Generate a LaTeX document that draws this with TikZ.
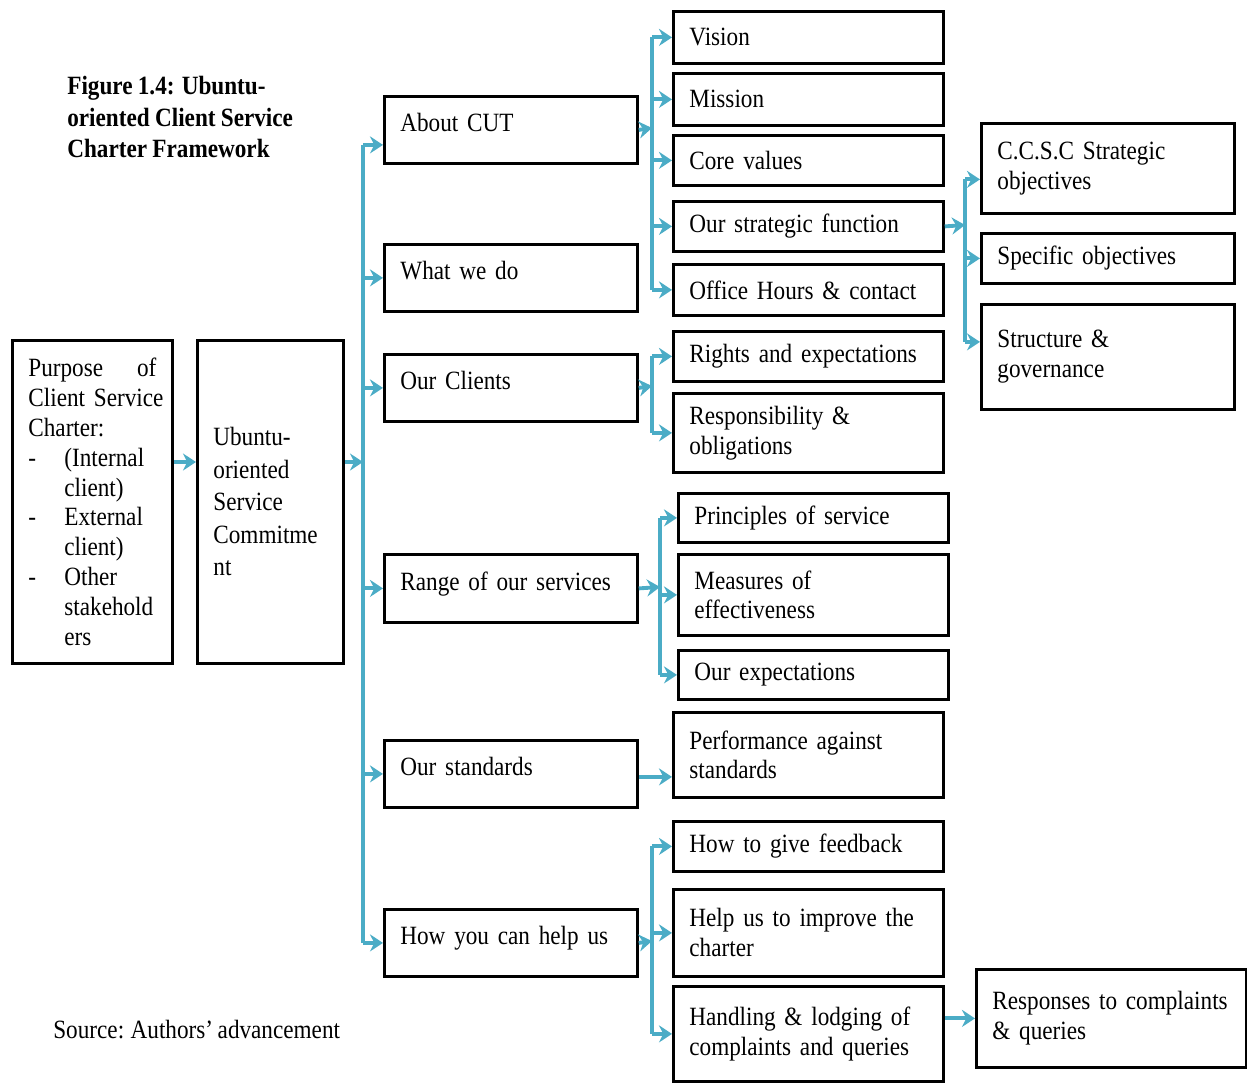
\documentclass[tikz,border=0pt]{standalone}
\usepackage{fontspec}
\setmainfont{Liberation Serif}[FakeStretch=0.88]
\usetikzlibrary{arrows.meta,calc}
\definecolor{linkblue}{RGB}{75,172,198}
\newcommand\boxfont{\fontsize{15}{17}\selectfont\fontdimen2\font=2.6pt\relax\hyphenpenalty=10000\relax}
\newcommand\titlefont{\bfseries\fontsize{15}{18}\selectfont\fontdimen2\font=3pt\relax}
\newcommand\dashitem[1]{\makebox[0.72cm][l]{-}#1}
\newcommand\hangitem[1]{\hspace*{0.72cm}#1}

\begin{document}
\begin{tikzpicture}[x=0.02cm,y=-0.02cm,
  box/.style={draw,line width=1.6pt,anchor=north west,align=left,inner xsep=0.32cm,inner ysep=0pt,font=\boxfont},
  lvtwo/.style={box,text width=4.42cm,minimum height=1.34cm,text depth=0.3cm},
  lvthree/.style={box,text width=4.76cm},
  link/.style={draw=linkblue,line width=2.2pt,line join=round},
  arr/.style={link,-{Stealth[length=0.26cm,width=0.34cm]}}]
\useasboundingbox (0,0) rectangle (1247,1082);
% title and source
\node[anchor=north west,align=left,inner sep=0,font=\titlefont] (title) at (67,76) {Figure 1.4: Ubuntu-\\oriented Client Service\\Charter Framework};
\node[anchor=west,inner sep=0,font=\boxfont] (source) at (53,1030) {Source: Authors' advancement};
% first two columns
\node[box,text width=2.56cm,minimum height=6.46cm] (purpose) at (11,339) {Purpose\hfill of\\\mbox{Client Service}\\Charter:\\\dashitem{(Internal}\\\hangitem{client)}\\\dashitem{External}\\\hangitem{client)}\\\dashitem{Other}\\\hangitem{stakehold}\\\hangitem{ers}};
\node[box,text width=2.28cm,minimum height=6.46cm,font=\boxfont\fontsize{15}{18.5}\selectfont] (ubuntu) at (196,339) {Ubuntu-\\oriented\\Service\\Commitme\\nt};
% headings of the charter
\node[lvtwo] (about) at (383,95) {About CUT};
\node[lvtwo] (whatdo) at (383,243) {What we do};
\node[lvtwo] (clients) at (383,353) {Our Clients};
\node[lvtwo,minimum height=1.36cm] (range) at (383,553) {Range of our services};
\node[lvtwo] (standards) at (383,739) {Our standards};
\node[lvtwo] (helpus) at (383,908) {How you can help us};
% contents
\node[lvthree,minimum height=1.04cm] (vision) at (672,10) {Vision};
\node[lvthree,minimum height=1.04cm] (mission) at (672,72) {Mission};
\node[lvthree,minimum height=1cm] (core) at (672,134) {Core values};
\node[lvthree,minimum height=1cm] (strat) at (672,200) {Our strategic function};
\node[lvthree,minimum height=1.02cm] (office) at (672,263) {Office Hours \& contact};
\node[lvthree,minimum height=1cm] (rights) at (672,330) {Rights and expectations};
\node[lvthree,minimum height=1.58cm] (resp) at (672,392) {Responsibility \&\\obligations};
\node[lvthree,minimum height=0.98cm] (princ) at (677,492) {Principles of service};
\node[lvthree,minimum height=1.62cm] (measures) at (677,553) {Measures of\\effectiveness};
\node[lvthree,minimum height=0.98cm] (ourexp) at (677,649) {Our expectations};
\node[lvthree,minimum height=1.7cm] (perf) at (672,711) {Performance against\\standards};
\node[lvthree,minimum height=1cm] (feedback) at (672,820) {How to give feedback};
\node[lvthree,minimum height=1.74cm] (improve) at (672,888) {Help us to improve the\\charter};
\node[lvthree,minimum height=1.9cm] (handling) at (672,985) {Handling \& lodging of\\complaints and queries};
% last column
\node[box,text width=4.42cm,minimum height=1.8cm] (ccsc) at (980,122) {C.C.S.C Strategic\\objectives};
\node[box,text width=4.42cm,minimum height=1cm] (specific) at (980,232) {Specific objectives};
\node[box,text width=4.42cm,minimum height=2.1cm] (structure) at (980,303) {Structure \&\\governance};
\node[lvthree,minimum height=1.96cm] (responses) at (975,968) {\mbox{Responses to complaints}\\\& queries};
% trunk
\coordinate (trunk) at (363,462);
\coordinate (abin) at ($(about.west)+(0,15)$);
\draw[arr] (purpose.east |- trunk) -- (ubuntu.west |- trunk);
\draw[arr] (ubuntu.east |- trunk) -- (trunk);
\draw[link] (abin -| trunk) -- (helpus.west -| trunk);
\draw[arr] (abin -| trunk) -- (abin);
\draw[arr] (whatdo.west -| trunk) -- (whatdo.west);
\draw[arr] (clients.west -| trunk) -- (clients.west);
\draw[arr] (range.west -| trunk) -- (range.west);
\draw[arr] (standards.west -| trunk) -- (standards.west);
\draw[arr] (helpus.west -| trunk) -- (helpus.west);
% About CUT
\coordinate (busa) at (652,128);
\draw[arr] (about.east) -- (busa);
\draw[link] (busa |- vision.west) -- (busa |- office.west);
\draw[arr] (busa |- vision.west) -- (vision.west);
\draw[arr] (busa |- mission.west) -- (mission.west);
\draw[arr] (busa |- core.west) -- (core.west);
\draw[arr] (busa |- strat.west) -- (strat.west);
\draw[arr] (busa |- office.west) -- (office.west);
% Our Clients
\coordinate (busb) at (652,386);
\draw[arr] (clients.east) -- (busb);
\draw[link] (busb |- rights.west) -- (busb |- resp.west);
\draw[arr] (busb |- rights.west) -- (rights.west);
\draw[arr] (busb |- resp.west) -- (resp.west);
% Range of our services
\coordinate (busc) at (660,587);
\draw[arr] (range.east) -- (busc);
\draw[link] (busc |- princ.west) -- (busc |- ourexp.west);
\draw[arr] (busc |- princ.west) -- (princ.west);
\draw[arr] (busc |- measures.west) -- (measures.west);
\draw[arr] (busc |- ourexp.west) -- (ourexp.west);
% Our standards
\coordinate (stdout) at ($(standards.east)+(0,3)$);
\draw[arr] (stdout) -- (stdout -| perf.west);
% How you can help us
\coordinate (busd) at (652,941);
\draw[arr] (helpus.east) -- (busd);
\draw[link] (busd |- feedback.west) -- (busd |- handling.west);
\draw[arr] (busd |- feedback.west) -- (feedback.west);
\draw[arr] (busd |- improve.west) -- (improve.west);
\draw[arr] (busd |- handling.west) -- (handling.west);
\draw[arr] (handling.east |- responses.west) -- (responses.west);
% strategic function
\coordinate (buse) at (965,225);
\coordinate (ccscin) at ($(ccsc.west)+(0,11)$);
\coordinate (structin) at ($(structure.west)+(0,-15)$);
\draw[arr] (strat.east) -- (buse);
\draw[link] (buse |- ccscin) -- (buse |- structin);
\draw[arr] (buse |- ccscin) -- (ccscin);
\draw[arr] (buse |- specific.west) -- (specific.west);
\draw[arr] (buse |- structin) -- (structin);
\end{tikzpicture}
\end{document}
